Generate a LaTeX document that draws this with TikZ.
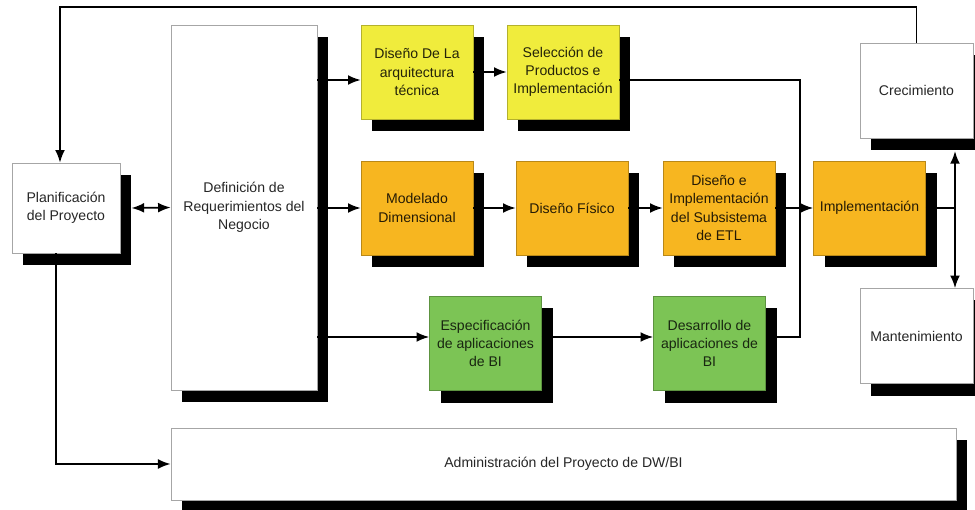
\documentclass[tikz,border=0pt]{standalone}
\usepackage{fontspec}
\setmainfont{Liberation Sans}
\usetikzlibrary{arrows.meta,shadows}

\definecolor{amarillo}{RGB}{240,236,60}
\definecolor{naranja}{RGB}{247,182,32}
\definecolor{verde}{RGB}{124,196,85}

\tikzset{
  caja/.style={rectangle, draw=gray!70, fill=white, inner sep=0pt, align=center,
    font=\fontsize{10}{13}\selectfont, text=black!85,
    drop shadow={shadow xshift=0.28cm, shadow yshift=-0.3cm, opacity=1, fill=black}},
  fase/.style={caja, minimum width=2.8cm, minimum height=2.35cm},
  cajaam/.style={fase, fill=amarillo, draw=amarillo!75!black, text=amarillo!15!black},
  cajana/.style={fase, fill=naranja, draw=naranja!75!black, text=naranja!15!black},
  cajave/.style={fase, fill=verde, draw=verde!75!black, text=verde!20!black},
  punta/.tip={Latex[length=9pt,width=7pt]},
  flecha/.style={line width=1.2pt, -punta},
  linea/.style={line width=1.2pt},
}

\begin{document}
\begin{tikzpicture}[x=0.025cm, y=-0.025cm]
  \useasboundingbox (0,0) rectangle (975,510);

  % cajas blancas
  \node[caja, minimum width=2.7cm, minimum height=2.25cm] (plan) at (66,208)
    {Planificación\\del Proyecto};
  \node[caja, minimum width=3.65cm, minimum height=9.125cm] (defin) at (244,207.5)
    {Definición de\\Requerimientos del\\Negocio};
  \node[caja, minimum width=2.825cm, minimum height=2.375cm] (crec) at (916.5,90.5)
    {Crecimiento};
  \node[caja, minimum width=2.825cm, minimum height=2.375cm] (mant) at (916.5,336)
    {Mantenimiento};
  \node[caja, minimum width=19.625cm, minimum height=1.8cm] (admin) at (563.5,464)
    {Administración del Proyecto de DW/BI};

  % fila de tecnologia
  \node[cajaam] (arq) at (417,72) {Diseño De La\\arquitectura\\técnica};
  \node[cajaam] (selec) at (563,72) {Selección de\\Productos e\\Implementación};

  % fila de datos
  \node[cajana] (model) at (417,208) {Modelado\\Dimensional};
  \node[cajana] (fisico) at (572,208) {Diseño Físico};
  \node[cajana] (etl) at (719,208) {Diseño e\\Implementación\\del Subsistema\\de ETL};
  \node[cajana] (impl) at (869.5,208) {Implementación};

  % fila de aplicaciones
  \node[cajave] (espec) at (485.5,343.5) {Especificación\\de aplicaciones\\de BI};
  \node[cajave] (desar) at (709.5,343.5) {Desarrollo de\\aplicaciones de\\BI};

  \coordinate (arriba) at (60,7);
  \coordinate (cruce) at (800,208);
  \coordinate (reparto) at (955,208);

  % conectores
  \draw[flecha] (crec.north) |- (arriba) -- (arriba |- plan.north);
  \draw[linea, punta-punta] ([xshift=0.28cm]plan.east) -- (defin.west);
  \draw[flecha] (defin.east |- 0,80) -- (arq.west |- 0,80);
  \draw[flecha] (arq) -- (selec);
  \draw[flecha] (defin.east |- model.west) -- (model.west);
  \draw[flecha] (model) -- (fisico);
  \draw[flecha] (fisico) -- (etl);
  \draw[flecha] (etl) -- (impl);
  \draw[flecha] (defin.east |- 0,337) -- (espec.west |- 0,337);
  \draw[flecha] (espec.east |- 0,337) -- (desar.west |- 0,337);
  \draw[linea] (selec.east |- 0,80) -| (cruce) |- (desar.east |- 0,337);
  \draw[linea] (impl.east) -- (reparto);
  \draw[flecha] (reparto) -- ([yshift=-0.32cm]crec.south -| reparto);
  \draw[flecha] (reparto) -- (mant.north -| reparto);
  \draw[flecha] ([xshift=-0.25cm]plan.south) |- (admin.west);
\end{tikzpicture}
\end{document}
